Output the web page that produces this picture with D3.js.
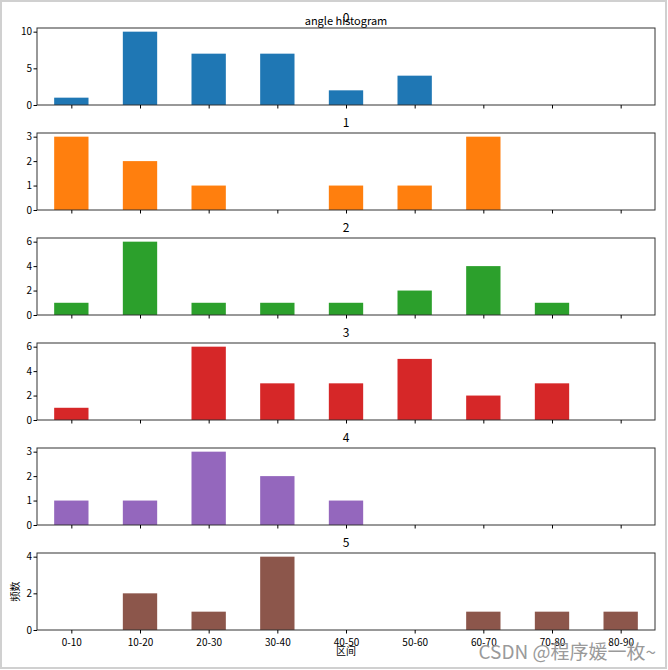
<!DOCTYPE html>
<html><head><meta charset="utf-8">
<script src="https://cdn.jsdelivr.net/npm/d3@7"></script>
<style>body{margin:0;background:#fff}</style>
</head><body>
<svg id="c" width="668" height="670"></svg>
<script>
const categories = ["0-10","10-20","20-30","30-40","40-50","50-60","60-70","70-80","80-90"];
const series0 = [1,10,7,7,2,4,0,0,0];
const series1 = [3,2,1,0,1,1,3,0,0];
const series2 = [1,6,1,1,1,2,4,1,0];
const series3 = [1,0,6,3,3,5,2,3,0];
const series4 = [1,1,3,2,1,0,0,0,0];
const series5 = [0,2,1,4,0,0,1,1,1];
const seriesNames = ["0","1","2","3","4","5"];
const yTicks = [[0,5,10],[0,1,2,3],[0,2,4,6],[0,2,4,6],[0,1,2,3],[0,2,4]];
const colors = ["#1f77b4","#ff7f0e","#2ca02c","#d62728","#9467bd","#8c564b"];
const allSeries = [series0,series1,series2,series3,series4,series5];

const svg = d3.select("#c");
const font = "'Noto Sans CJK SC', 'DejaVu Sans', sans-serif";
svg.append("rect").attr("x",1).attr("y",1).attr("width",665).attr("height",667)
  .attr("fill","none").attr("stroke","#d0d0d0").attr("stroke-width",2);

const left = 37, right = 655, top0 = 28, h = 77, step = 105;
const x = d3.scaleLinear().domain([-0.5, categories.length - 0.5]).range([left, right]);

allSeries.forEach((vals, i) => {
  const top = top0 + i*step, bottom = top + h;
  const maxV = d3.max(vals);
  const y = d3.scaleLinear().domain([0, maxV*1.05]).range([bottom, top]);
  const g = svg.append("g");
  g.selectAll("rect.bar").data(vals).join("rect")
    .attr("x", (d,j) => x(j-0.25)).attr("width", x(0.25)-x(-0.25))
    .attr("y", d => y(d)).attr("height", d => y(0)-y(d))
    .attr("fill", colors[i]);
  g.append("rect").attr("x",left).attr("y",top).attr("width",right-left).attr("height",h)
    .attr("fill","none").attr("stroke","#333").attr("stroke-width",1);
  const yAxis = d3.axisLeft(y).tickValues(yTicks[i]).tickSize(3.5).tickFormat(d3.format("d"));
  const ya = g.append("g").attr("transform",`translate(${left},0)`).call(yAxis);
  const xAxis = d3.axisBottom(x).tickValues(d3.range(categories.length)).tickSize(3.5)
    .tickFormat(j => i === allSeries.length-1 ? categories[j] : "");
  const xa = g.append("g").attr("transform",`translate(0,${bottom})`).call(xAxis);
  [ya,xa].forEach(a => {
    a.select(".domain").remove();
    a.selectAll("text").attr("font-family",font).attr("font-size",10).attr("fill","#000");
    a.selectAll("line").attr("stroke","#000");
  });
  xa.selectAll("text").attr("dy","0.9em");
  ya.selectAll("text").attr("x",-5);
  g.append("text").attr("x",(left+right)/2).attr("y",top-6).attr("text-anchor","middle")
    .attr("font-family",font).attr("font-size",12).text(seriesNames[i]);
});

svg.append("text").attr("x",(left+right)/2).attr("y",25).attr("text-anchor","middle")
  .attr("font-family",font).attr("font-size",11).text("angle histogram");
svg.append("text").attr("transform",`translate(19,${top0+5*step+h/2}) rotate(-90)`)
  .attr("text-anchor","middle").attr("font-family",font).attr("font-size",10).text("频数");
svg.append("text").attr("x",(left+right)/2).attr("y",655).attr("text-anchor","middle")
  .attr("font-family",font).attr("font-size",10).text("区间");
svg.append("text").attr("x",656).attr("y",659).attr("text-anchor","end")
  .attr("font-family",font).attr("font-size",19).attr("fill","#9a9a9a")
  .text("CSDN @程序媛一枚~");
</script>
</body></html>
